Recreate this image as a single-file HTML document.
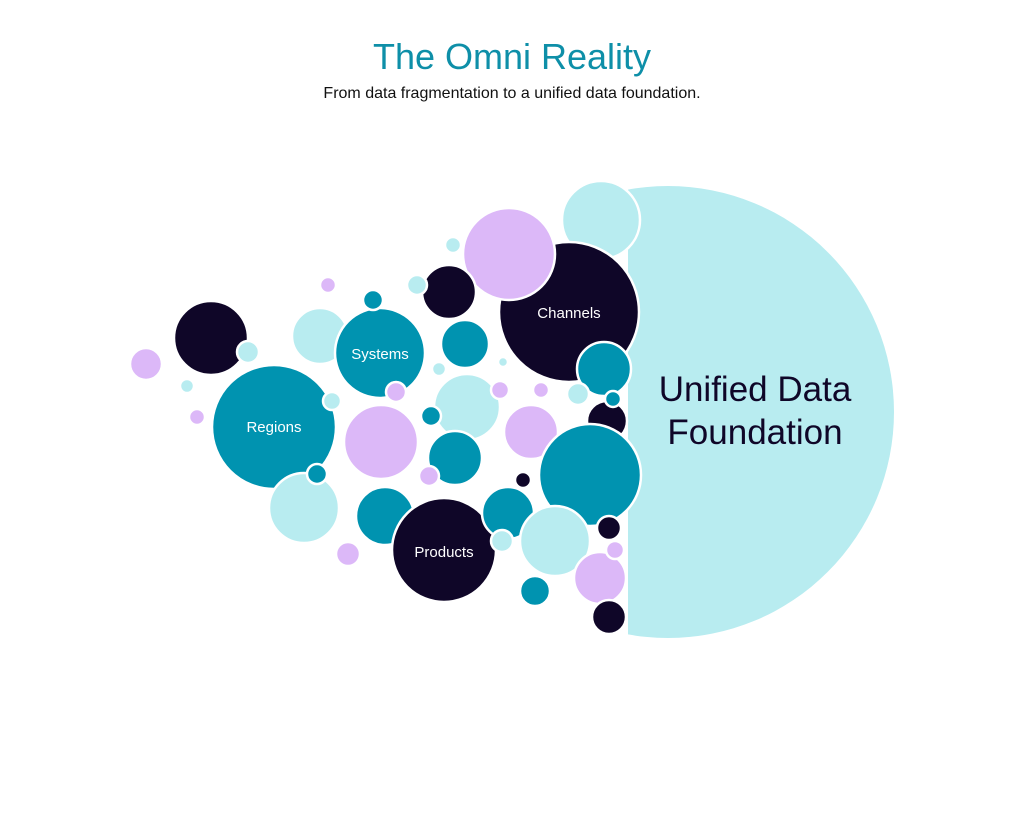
<!DOCTYPE html>
<html><head><meta charset="utf-8"><style>
html,body{margin:0;padding:0;background:#fff;}
svg{display:block;}
text{font-family:"Liberation Sans",sans-serif;}
</style></head><body>
<svg width="1024" height="819" viewBox="0 0 1024 819" xmlns="http://www.w3.org/2000/svg">
<defs><clipPath id="c"><rect x="628" y="0" width="400" height="819"/></clipPath></defs>
<rect width="1024" height="819" fill="#fff"/>
<text x="512" y="69" text-anchor="middle" font-size="36" fill="#0e8fa8">The Omni Reality</text>
<text x="512" y="98" text-anchor="middle" font-size="16" fill="#111">From data fragmentation to a unified data foundation.</text>
<circle cx="668" cy="412" r="226" fill="#b8ecf0" clip-path="url(#c)"/>
<g stroke="#fff" stroke-width="2.5">
<circle cx="601" cy="220" r="39" fill="#b8ecf0"/>
<circle cx="569" cy="312" r="70" fill="#0f0628"/>
<circle cx="509" cy="254" r="46" fill="#dcb8f8"/>
<circle cx="453" cy="245" r="8" fill="#b8ecf0"/>
<circle cx="449" cy="292" r="27" fill="#0f0628"/>
<circle cx="417" cy="285" r="10" fill="#b8ecf0"/>
<circle cx="328" cy="285" r="8" fill="#dcb8f8"/>
<circle cx="211" cy="338" r="37" fill="#0f0628"/>
<circle cx="248" cy="352" r="11" fill="#b8ecf0"/>
<circle cx="146" cy="364" r="16" fill="#dcb8f8"/>
<circle cx="320" cy="336" r="28" fill="#b8ecf0"/>
<circle cx="380" cy="353" r="45" fill="#0093b0"/>
<circle cx="373" cy="300" r="10" fill="#0093b0"/>
<circle cx="465" cy="344" r="24" fill="#0093b0"/>
<circle cx="503" cy="362" r="5" fill="#b8ecf0"/>
<circle cx="439" cy="369" r="7" fill="#b8ecf0"/>
<circle cx="607" cy="421" r="20" fill="#0f0628"/>
<circle cx="604" cy="369" r="27" fill="#0093b0"/>
<circle cx="578" cy="394" r="11" fill="#b8ecf0"/>
<circle cx="613" cy="399" r="8" fill="#0093b0"/>
<circle cx="187" cy="386" r="7" fill="#b8ecf0"/>
<circle cx="197" cy="417" r="8" fill="#dcb8f8"/>
<circle cx="467" cy="407" r="33" fill="#b8ecf0"/>
<circle cx="274" cy="427" r="62" fill="#0093b0"/>
<circle cx="332" cy="401" r="9" fill="#b8ecf0"/>
<circle cx="396" cy="392" r="10" fill="#dcb8f8"/>
<circle cx="500" cy="390" r="9" fill="#dcb8f8"/>
<circle cx="541" cy="390" r="8" fill="#dcb8f8"/>
<circle cx="381" cy="442" r="37" fill="#dcb8f8"/>
<circle cx="431" cy="416" r="10" fill="#0093b0"/>
<circle cx="531" cy="432" r="27" fill="#dcb8f8"/>
<circle cx="455" cy="458" r="27" fill="#0093b0"/>
<circle cx="590" cy="475" r="51" fill="#0093b0"/>
<circle cx="304" cy="508" r="35" fill="#b8ecf0"/>
<circle cx="317" cy="474" r="10" fill="#0093b0"/>
<circle cx="429" cy="476" r="10" fill="#dcb8f8"/>
<circle cx="523" cy="480" r="8" fill="#0f0628"/>
<circle cx="385" cy="516" r="29" fill="#0093b0"/>
<circle cx="348" cy="554" r="12" fill="#dcb8f8"/>
<circle cx="444" cy="550" r="52" fill="#0f0628"/>
<circle cx="508" cy="513" r="26" fill="#0093b0"/>
<circle cx="555" cy="541" r="35" fill="#b8ecf0"/>
<circle cx="502" cy="541" r="11" fill="#b8ecf0"/>
<circle cx="609" cy="528" r="12" fill="#0f0628"/>
<circle cx="600" cy="578" r="26" fill="#dcb8f8"/>
<circle cx="615" cy="550" r="9" fill="#dcb8f8"/>
<circle cx="535" cy="591" r="15" fill="#0093b0"/>
<circle cx="609" cy="617" r="17" fill="#0f0628"/>
</g>
<g fill="#fff" font-size="15" text-anchor="middle">
<text x="569" y="318">Channels</text>
<text x="380" y="359">Systems</text>
<text x="274" y="432">Regions</text>
<text x="444" y="557">Products</text>
</g>
<g fill="#0f0628" font-size="35" text-anchor="middle">
<text x="755" y="401">Unified Data</text>
<text x="755" y="444">Foundation</text>
</g>
</svg>
</body></html>
